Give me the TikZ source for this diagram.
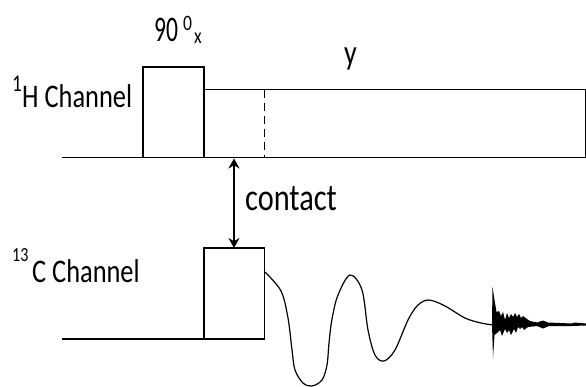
\documentclass[tikz,border=0pt]{standalone}
\usepackage{fontspec}
\setmainfont{Carlito}
\usetikzlibrary{arrows.meta}
\tikzset{
  seq/.style={line width=1.3pt,black},
  guide/.style={line width=1.2pt,black,dash pattern=on 8pt off 5pt},
  fidline/.style={line width=1.2pt,black,line join=round},
  lab/.style={inner sep=0pt,anchor=base west,transform shape,xscale=0.8,font=\fontsize{33}{36}\selectfont,text=black},
  suptext/.style={inner sep=0pt,anchor=base west,transform shape,xscale=0.8,font=\fontsize{20}{22}\selectfont,text=black},
  contactarrow/.style={line width=1.3pt,black,{Stealth[length=10pt,width=11pt]}-{Stealth[length=10pt,width=11pt]}}
}
\begin{document}
\begin{tikzpicture}[x=1pt,y=-1pt]
\useasboundingbox (0,0) rectangle (586,386);
% coordinates
\coordinate (hs) at (62,157.5);
\coordinate (ha) at (143,157.5);
\coordinate (hb) at (204,157.5);
\coordinate (hd) at (264.5,157.5);
\coordinate (he) at (585.5,157.5);
\coordinate (hat) at (143,67);
\coordinate (hbt) at (204,67);
\coordinate (hbm) at (204,89.5);
\coordinate (hdm) at (264.5,89.5);
\coordinate (hem) at (585.5,89.5);
\coordinate (cs) at (62,339);
\coordinate (ca) at (204,339);
\coordinate (cb) at (264.5,339);
\coordinate (cat) at (204,248);
\coordinate (cbt) at (264.5,248);
\coordinate (aup) at (234,158.5);
\coordinate (adn) at (234,248);
% 1H sequence
\draw[seq] (hs) -- (ha) -- (hat) -- (hbt) -- (hb);
\draw[seq] (ha) -- (he) -- (hem) -- (hbm);
\draw[guide] (hdm) -- (hd);
% 13C sequence
\draw[seq] (cs) -- (cb) -- (cbt) -- (cat) -- (ca);
% contact
\draw[contactarrow] (aup) -- (adn);
% FID slow part
\draw[fidline] plot[smooth,tension=0.55] coordinates {
 (265,272) (281,291) (288,318) (292,350) (295,370) (303,383) (312,386) (322,380) (327,365)
 (329,343) (332,319) (338,295) (350,275) (362,290) (368,330) (375,355) (384,361) (395,350)
 (408,320) (418,305) (429,300) (445,306) (465,318) (481,323) (493,325)};
% FID spike and decay
\fill[black] (492,324) -- (492.5,287) -- (494.5,300) -- (496.5,312) -- (499,311) -- (501,316) -- (503,312) -- (505,320) -- (507,313) -- (509,318) -- (511,314) -- (513,317) -- (515,313) -- (517,317) -- (519,314) -- (521,318) -- (523,316) -- (527,319) -- (530,321) -- (537,322.5) -- (543,320.5) -- (548,322.5) -- (560,323) -- (572,323.5) -- (574,322.5) -- (586,323.5)
 -- (586,325.5) -- (572,326) -- (560,326) -- (549,326) -- (543,328.5) -- (537,326) -- (528,327) -- (524,330) -- (522,327) -- (520,329) -- (518,327) -- (516,333) -- (514,329) -- (511,335) -- (509,330) -- (507,333) -- (505,329) -- (502,336) -- (500,330) -- (497,333) -- (494.5,335) -- (493,358) -- (492,324) -- cycle;
% labels
\node[lab,xscale=0.82,font=\fontsize{36}{38}\selectfont] (t90) at (154,41) {90};
\node[suptext,font=\fontsize{22}{24}\selectfont] (t0) at (183,30) {0};
\node[suptext,font=\fontsize{22}{24}\selectfont] (tx) at (194,43) {x};
\node[lab,font=\fontsize{35}{38}\selectfont] (ty) at (344,64) {y};
\node[suptext,font=\fontsize{24}{26}\selectfont] (h1) at (12,91) {1};
\node[lab] (hc) at (22,107) {H Channel};
\node[suptext] (c13) at (12,261) {13};
\node[lab] (cc) at (32,282) {C Channel};
\node[lab,font=\fontsize{38}{40}\selectfont] (ct) at (245,210) {contact};
\end{tikzpicture}
\end{document}
